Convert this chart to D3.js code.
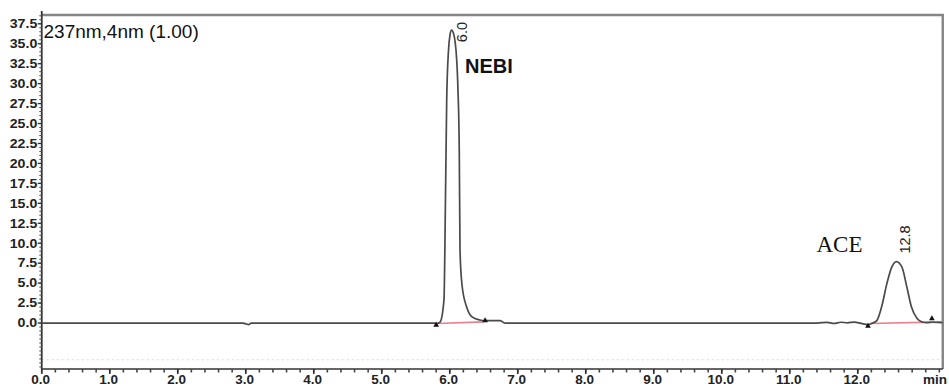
<!DOCTYPE html>
<html><head><meta charset="utf-8">
<script src="https://cdn.jsdelivr.net/npm/d3@7/dist/d3.min.js"></script>
<style>
html,body{margin:0;padding:0;background:#fff;}
svg{display:block;}
</style></head>
<body><svg id="chart" width="949" height="387"></svg>
<script>
// ---- data ----
const retentionTime = [0.00, 2.96, 3.01, 3.04, 3.08, 5.78, 5.82, 5.857, 5.915, 5.937, 5.955, 5.982, 6.004, 6.026, 6.055, 6.102, 6.121, 6.140, 6.151, 6.18, 6.249, 6.323, 6.443, 6.518, 6.739, 6.813, 11.40, 11.55, 11.65, 11.75, 11.85, 11.95, 12.05, 12.15, 12.22, 12.28, 12.35, 12.43, 12.50, 12.57, 12.65, 12.72, 12.79, 12.87, 12.94, 13.02, 13.10, 13.25];
const signal        = [0.00, 0.00, -0.12, -0.20, 0.00, 0.00, -0.05, 0.10, 2.9, 15.4, 27.9, 34.2, 36.1, 36.7, 36.3, 33.0, 29.2, 21.7, 9.1, 4.8, 2.0, 0.8, 0.38, 0.30, 0.30, 0.00, 0.00, 0.08, -0.05, 0.10, 0.03, 0.12, -0.05, -0.20, 0.00, 0.30, 2.0, 5.0, 7.0, 7.7, 7.0, 4.6, 2.0, 0.6, 0.16, 0.05, 0.10, 0.05];

const peakTimes     = [6.026, 12.57];
const peakHeights   = [36.7, 7.7];
const peakRtLabels  = ["6.0", "12.8"];
const compoundNames = ["NEBI", "ACE"];

const baselineStartT = [5.81, 12.18];
const baselineStartV = [-0.05, -0.05];
const baselineEndT   = [6.50, 13.25];
const baselineEndV   = [0.15, 0.15];

const markerTimes  = [5.80, 6.52, 12.15, 13.09];
const markerValues = [-0.25, 0.30, -0.38, 0.56];

const xTicks = [0,1,2,3,4,5,6,7,8,9,10,11,12];
const xTickLabels = ["0.0","1.0","2.0","3.0","4.0","5.0","6.0","7.0","8.0","9.0","10.0","11.0","12.0"];
const yTicks = [0,2.5,5,7.5,10,12.5,15,17.5,20,22.5,25,27.5,30,32.5,35,37.5];
const yTickLabels = ["0.0","2.5","5.0","7.5","10.0","12.5","15.0","17.5","20.0","22.5","25.0","27.5","30.0","32.5","35.0","37.5"];
const channelLabel = "237nm,4nm (1.00)";
const xUnit = "min";

// ---- layout ----
const svg = d3.select("#chart");
const x = d3.scaleLinear().domain([0, 13.25]).range([41.75, 942.75]);
const y = d3.scaleLinear().domain([-5.76, 38.6]).range([369, 15]);

// faint dotted line near bottom
svg.append("line")
  .attr("x1", x(0)).attr("x2", x(13.2)).attr("y1", y(-4.6)).attr("y2", y(-4.6))
  .attr("stroke", "#d9d9d9").attr("stroke-width", 1.2).attr("stroke-dasharray", "2,3");

// frame top/right (gray)
svg.append("path")
  .attr("d", `M${x(0)},${y.range()[1]}H${x.range()[1]}V${y.range()[0]}`)
  .attr("fill", "none").attr("stroke", "#858585").attr("stroke-width", 2.4);

// x axis
const xMinor = d3.range(0, 13.21, 0.2);
const xAxisG = svg.append("g").attr("transform", `translate(0,${y.range()[0]})`);
xAxisG.append("line").attr("x1", x(0)).attr("x2", x.range()[1]).attr("stroke", "#333").attr("stroke-width", 1.6);
xAxisG.selectAll("line.minor").data(xMinor).join("line").attr("class","minor")
  .attr("x1", d => x(d)).attr("x2", d => x(d)).attr("y1", 0).attr("y2", 3.5)
  .attr("stroke", "#444").attr("stroke-width", 1.6);
xAxisG.selectAll("line.major").data(xTicks).join("line").attr("class","major")
  .attr("x1", d => x(d)).attr("x2", d => x(d)).attr("y1", 0).attr("y2", 5)
  .attr("stroke", "#333").attr("stroke-width", 1.6);
xAxisG.selectAll("text").data(xTicks).join("text")
  .attr("x", d => x(d) - 1).attr("y", 14.5)
  .attr("text-anchor", "middle")
  .attr("font-family", "Liberation Sans, Arial, sans-serif")
  .attr("font-weight", "bold").attr("font-size", 13.5).attr("fill", "#222")
  .text((d, i) => xTickLabels[i]);
svg.append("text").attr("x", 947).attr("y", 383.5).attr("text-anchor", "end")
  .attr("font-family", "Liberation Sans, Arial, sans-serif")
  .attr("font-weight", "bold").attr("font-size", 13.5).attr("fill", "#222").text(xUnit);

// y axis
const yMinor = d3.range(-5.5, 38.6, 0.5);
const yAxisG = svg.append("g").attr("transform", `translate(${x(0)},0)`);
yAxisG.append("line").attr("y1", 11).attr("y2", y.range()[0]).attr("stroke", "#333").attr("stroke-width", 1.8);
yAxisG.selectAll("line.minor").data(yMinor).join("line").attr("class","minor")
  .attr("y1", d => y(d)).attr("y2", d => y(d)).attr("x1", 0).attr("x2", -2.5)
  .attr("stroke", "#555").attr("stroke-width", 1);
yAxisG.selectAll("line.major").data(yTicks).join("line").attr("class","major")
  .attr("y1", d => y(d)).attr("y2", d => y(d)).attr("x1", 0).attr("x2", -4)
  .attr("stroke", "#333").attr("stroke-width", 1.3);
yAxisG.selectAll("text").data(yTicks).join("text")
  .attr("transform", d => `translate(-4.5,${y(d) + 4.3}) scale(1.18,1)`)
  .attr("text-anchor", "end")
  .attr("font-family", "Liberation Sans, Arial, sans-serif")
  .attr("font-weight", "bold").attr("font-size", 12).attr("fill", "#222")
  .text((d, i) => yTickLabels[i]);

// channel label
svg.append("text").attr("x", 43.5).attr("y", 37.5)
  .attr("font-family", "Liberation Sans, Arial, sans-serif")
  .attr("font-size", 19).attr("fill", "#111").text(channelLabel);

// integration baselines (pink)
svg.selectAll("line.base").data(baselineStartT).join("line").attr("class","base")
  .attr("x1", (d,i) => x(d)).attr("y1", (d,i) => y(baselineStartV[i]))
  .attr("x2", (d,i) => x(baselineEndT[i])).attr("y2", (d,i) => y(baselineEndV[i]))
  .attr("stroke", "#ea7f8e").attr("stroke-width", 1.6);

// trace
const pts = retentionTime.map((t, i) => [t, signal[i]]);
const line = d3.line().x(d => x(d[0])).y(d => y(d[1])).curve(d3.curveMonotoneX);
svg.append("path").datum(pts).attr("d", line)
  .attr("fill", "none").attr("stroke", "#4a4a4a").attr("stroke-width", 1.7)
  .attr("stroke-linejoin", "round");

// peak start/end markers
svg.selectAll("path.mk").data(markerTimes).join("path").attr("class","mk")
  .attr("transform", (d,i) => `translate(${x(d)},${y(markerValues[i])})`)
  .attr("d", d3.symbol().type(d3.symbolTriangle).size(14))
  .attr("fill", "#111");

// retention-time labels (rotated)
const rtOffsets = [[15.5, 12], [13.5, -8]];
svg.selectAll("text.rt").data(peakTimes).join("text").attr("class","rt")
  .attr("transform", (d,i) => `translate(${x(d) + rtOffsets[i][0]},${y(peakHeights[i]) + rtOffsets[i][1]}) rotate(-90)`)
  .attr("font-family", "Liberation Sans, Arial, sans-serif")
  .attr("font-size", 14.5).attr("fill", "#222")
  .text((d,i) => peakRtLabels[i]);

// compound names
svg.append("text").attr("x", x(peakTimes[0]) + 13.5).attr("y", 73)
  .attr("font-family", "Liberation Sans, Arial, sans-serif")
  .attr("font-weight", "bold").attr("font-size", 20).attr("fill", "#111")
  .text(compoundNames[0]);
svg.append("text").attr("x", x(peakTimes[1]) - 80).attr("y", 252)
  .attr("font-family", "Liberation Serif, Times New Roman, serif")
  .attr("font-size", 23).attr("fill", "#111")
  .text(compoundNames[1]);
</script>
</body></html>
